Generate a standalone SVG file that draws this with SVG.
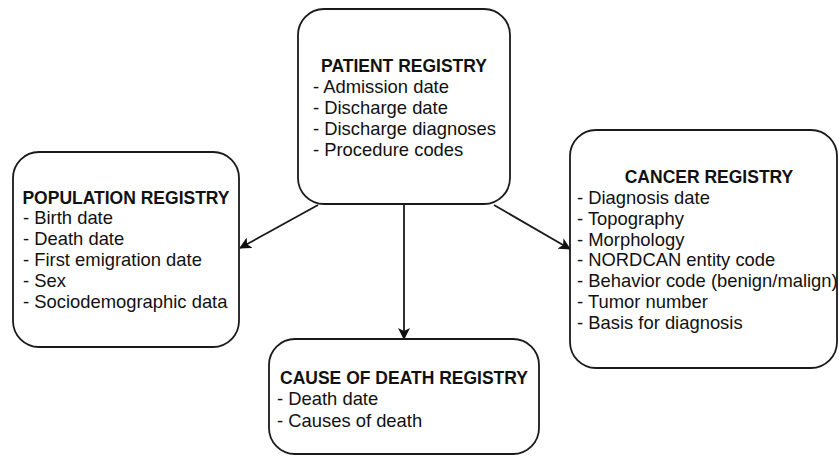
<svg xmlns="http://www.w3.org/2000/svg" width="839" height="456" viewBox="0 0 839 456">
<style>
.box{fill:#fff;stroke:#1a1a1a;stroke-width:1.8}
.t{font-family:"Liberation Sans",Arial,sans-serif;font-size:18.4px;fill:#111}
.h{font-weight:bold;font-size:17.5px}
.c{text-anchor:middle}
.ln{stroke:#1a1a1a;stroke-width:1.8;fill:none}
</style>
<defs>
<marker id="ah" viewBox="0 0 12 12" refX="11" refY="6" markerWidth="12" markerHeight="12" markerUnits="userSpaceOnUse" orient="auto">
<path d="M0,0 L12,6 L0,12 L3,6 Z" fill="#111"/>
</marker>
</defs>
<rect width="839" height="456" fill="#fff"/>
<g id="connectors">
<line class="ln" x1="318" y1="205" x2="240" y2="248" marker-end="url(#ah)"/>
<line class="ln" x1="404" y1="205" x2="404" y2="339" marker-end="url(#ah)"/>
<line class="ln" x1="494" y1="205" x2="570" y2="249" marker-end="url(#ah)"/>
</g>
<g id="patient">
<rect class="box" x="298" y="9" width="212" height="195" rx="26"/>
<text class="t h c" x="404" y="72">PATIENT REGISTRY</text>
<text class="t" x="313" y="93">- Admission date</text>
<text class="t" x="313" y="114">- Discharge date</text>
<text class="t" x="313" y="135">- Discharge diagnoses</text>
<text class="t" x="313" y="156">- Procedure codes</text>
</g>
<g id="population">
<rect class="box" x="13" y="152" width="226" height="195" rx="26"/>
<text class="t h c" x="126" y="204">POPULATION REGISTRY</text>
<text class="t" x="23" y="224">- Birth date</text>
<text class="t" x="23" y="245">- Death date</text>
<text class="t" x="23" y="266">- First emigration date</text>
<text class="t" x="23" y="287">- Sex</text>
<text class="t" x="23" y="308">- Sociodemographic data</text>
</g>
<g id="cancer">
<rect class="box" x="570" y="130" width="267" height="238" rx="26"/>
<text class="t h c" x="709" y="183">CANCER REGISTRY</text>
<text class="t" x="577" y="204">- Diagnosis date</text>
<text class="t" x="577" y="225">- Topography</text>
<text class="t" x="577" y="246">- Morphology</text>
<text class="t" x="577" y="266">- NORDCAN entity code</text>
<text class="t" x="577" y="287">- Behavior code (benign/malign)</text>
<text class="t" x="577" y="308">- Tumor number</text>
<text class="t" x="577" y="329">- Basis for diagnosis</text>
</g>
<g id="causeofdeath">
<rect class="box" x="269" y="339" width="270" height="115" rx="26"/>
<text class="t h c" x="404" y="384">CAUSE OF DEATH REGISTRY</text>
<text class="t" x="277" y="405">- Death date</text>
<text class="t" x="277" y="427">- Causes of death</text>
</g>
</svg>
